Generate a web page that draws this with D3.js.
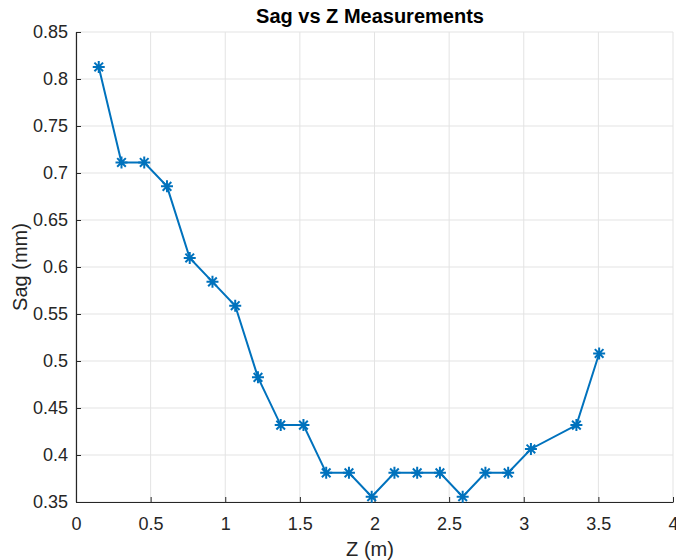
<!DOCTYPE html>
<html>
<head>
<meta charset="utf-8">
<script src="https://cdn.jsdelivr.net/npm/d3@7"></script>
<style>
  body { margin: 0; background: #fff; }
  svg { display: block; font-family: "Liberation Sans", Arial, sans-serif; }
</style>
</head>
<body>
<svg id="chart" width="676" height="560"></svg>
<script>
// sag measurements along the span
const zValues = [0.1524, 0.3048, 0.4572, 0.6096, 0.762, 0.9144, 1.0668, 1.2192, 1.3716, 1.524,
  1.6764, 1.8288, 1.9812, 2.1336, 2.286, 2.4384, 2.5908, 2.7432, 2.8956, 3.048, 3.3528, 3.5052];
const sagValues = [0.8128, 0.7112, 0.7112, 0.6858, 0.6096, 0.5842, 0.5588, 0.4826, 0.4318, 0.4318,
  0.381, 0.381, 0.3556, 0.381, 0.381, 0.381, 0.3556, 0.381, 0.381, 0.4064, 0.4318, 0.508];
const xTicks = [0, 0.5, 1, 1.5, 2, 2.5, 3, 3.5, 4];
const yTicks = [0.35, 0.4, 0.45, 0.5, 0.55, 0.6, 0.65, 0.7, 0.75, 0.8, 0.85];

const margin = {top: 32, right: 3, bottom: 58, left: 76};
const width = 676 - margin.left - margin.right,
      height = 560 - margin.top - margin.bottom;

const svg = d3.select('#chart');
const g = svg.append('g').attr('transform', 'translate(' + margin.left + ',' + margin.top + ')');

const x = d3.scaleLinear().domain([0, 4]).range([0, width]);
const y = d3.scaleLinear().domain([0.35, 0.85]).range([height, 0]);

// grid
g.append('g').selectAll('line').data(xTicks).enter().append('line')
  .attr('x1', d => x(d)).attr('x2', d => x(d)).attr('y1', 0).attr('y2', height)
  .attr('stroke', '#e3e3e3').attr('stroke-width', 1);
g.append('g').selectAll('line').data(yTicks).enter().append('line')
  .attr('x1', 0).attr('x2', width).attr('y1', d => y(d)).attr('y2', d => y(d))
  .attr('stroke', '#e3e3e3').attr('stroke-width', 1);

// axes (ticks inward, matlab style)
const xAxis = g.append('g').attr('transform', 'translate(0,' + height + ')')
  .call(d3.axisBottom(x).tickValues(xTicks).tickFormat(d3.format('')).tickSizeInner(-5).tickSizeOuter(0).tickPadding(15));
const yAxis = g.append('g')
  .call(d3.axisLeft(y).tickValues(yTicks).tickFormat(d3.format('')).tickSizeInner(-5).tickSizeOuter(0).tickPadding(8));
[xAxis, yAxis].forEach(a => {
  a.select('.domain').attr('stroke', '#262626').attr('stroke-width', 1.2);
  a.selectAll('.tick line').attr('stroke', '#262626');
  a.selectAll('.tick text').attr('fill', '#262626').style('font-size', '18px');
});

// line
const line = d3.line().x((d, i) => x(zValues[i])).y(d => y(d));
g.append('path').datum(sagValues)
  .attr('d', line).attr('fill', 'none').attr('stroke', '#0072BD').attr('stroke-width', 2);

// asterisk markers
const r = 6, rd = r * 0.72;
const star = 'M' + (-r) + ',0L' + r + ',0M0,' + (-r) + 'L0,' + r +
  'M' + (-rd) + ',' + (-rd) + 'L' + rd + ',' + rd + 'M' + (-rd) + ',' + rd + 'L' + rd + ',' + (-rd);
g.append('g').selectAll('path').data(sagValues).enter().append('path')
  .attr('transform', (d, i) => 'translate(' + x(zValues[i]) + ',' + y(d) + ')')
  .attr('d', star).attr('fill', 'none').attr('stroke', '#0072BD').attr('stroke-width', 2);

// labels
svg.append('text').text('Sag vs Z Measurements')
  .attr('x', 370).attr('y', 23)
  .attr('text-anchor', 'middle').style('font-size', '20px').style('font-weight', 'bold').attr('fill', '#000');
svg.append('text').text('Z (m)')
  .attr('x', 370).attr('y', 556)
  .attr('text-anchor', 'middle').style('font-size', '20px').attr('fill', '#262626');
svg.append('text').text('Sag (mm)')
  .attr('transform', 'translate(27,' + (margin.top + height / 2) + ') rotate(-90)')
  .attr('text-anchor', 'middle').style('font-size', '20px').attr('fill', '#262626');
</script>
</body>
</html>
